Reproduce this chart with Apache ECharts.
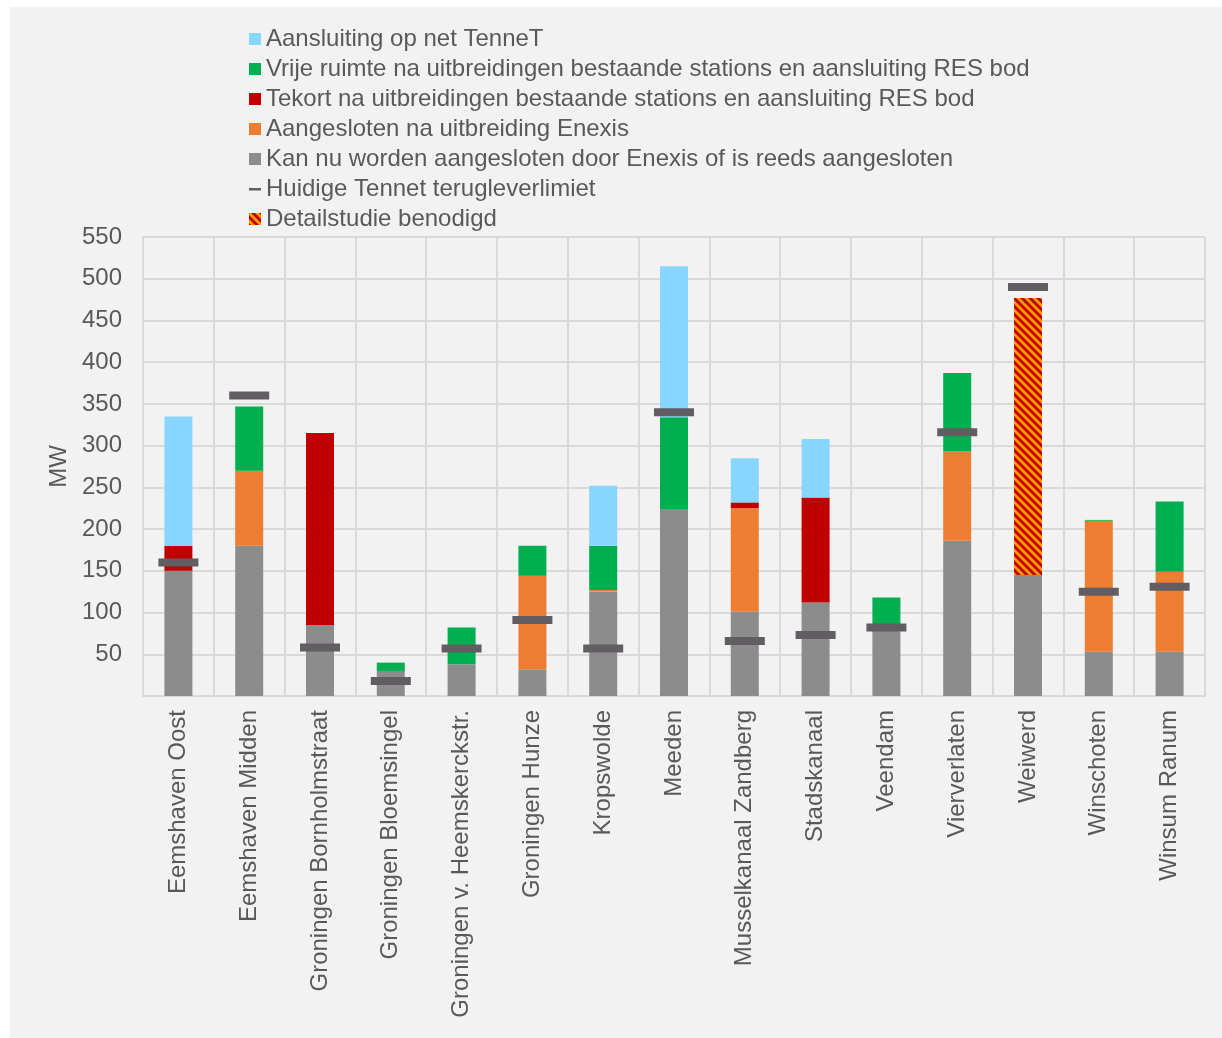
<!DOCTYPE html>
<html>
<head>
<meta charset="utf-8">
<script src="https://cdn.jsdelivr.net/npm/echarts@6/dist/echarts.min.js"></script>
<style>
html,body{margin:0;padding:0;background:#fff;width:1222px;height:1038px;overflow:hidden;}
#bg{position:absolute;left:10px;top:7px;width:1212px;height:1031px;background:#F2F2F2;}
#chart{position:absolute;left:0;top:0;width:1222px;height:1038px;}
</style>
</head>
<body>
<div id="bg"></div>
<div id="chart"></div>
<script>
const categories = ['Eemshaven Oost','Eemshaven Midden','Groningen Bornholmstraat','Groningen Bloemsingel','Groningen v. Heemskerckstr.','Groningen Hunze','Kropswolde','Meeden','Musselkanaal Zandberg','Stadskanaal','Veendam','Vierverlaten','Weiwerd','Winschoten','Winsum Ranum'];
const kanNu      = [150,180,85,30,38,32,125,224,101,112,82,186,145,53,53];
const aangesloten= [0,90,0,0,0,112,2,0,124,0,0,107,0,157,96];
const tekort     = [30,0,230,0,0,0,0,0,7,126,0,0,0,0,0];
const detail     = [0,0,0,0,0,0,0,0,0,0,0,0,332,0,0];
const vrije      = [0,77,0,10,44,36,53,110,0,0,36,94,0,1,84];
const tennet     = [155,0,0,0,0,0,72,181,53,70,0,0,0,0,0];
const limiet     = [160,360,58,18,57,91,57,340,66,73,82,316,490,125,131];
const yTicks = [0,50,100,150,200,250,300,350,400,450,500,550];

const names = {
  tennet:'Aansluiting op net TenneT',
  vrije:'Vrije ruimte na uitbreidingen bestaande stations en aansluiting RES bod',
  tekort:'Tekort na uitbreidingen bestaande stations en aansluiting RES bod',
  aang:'Aangesloten na uitbreiding Enexis',
  kan:'Kan nu worden aangesloten door Enexis of is reeds aangesloten',
  lim:'Huidige Tennet terugleverlimiet',
  detail:'Detailstudie benodigd'
};

// hatch pattern
const pc = document.createElement('canvas');
pc.width = 8; pc.height = 8;
const ctx = pc.getContext('2d');
ctx.fillStyle = '#C00000';
ctx.fillRect(0,0,8,8);
ctx.strokeStyle = '#FF9A00';
ctx.lineWidth = 2.8;
ctx.beginPath();
for (let k=-2;k<=2;k++){
  ctx.moveTo(k*8-2, -2);
  ctx.lineTo(k*8+10, 10);
}
ctx.stroke();

const textColor = '#595959';
const font = 'Liberation Sans, Arial, sans-serif';
const fs = 24;
const barW = 28;

function bar(name, data, color){
  return {name, type:'bar', stack:'s', data, barWidth:barW, itemStyle:{color}, emphasis:{disabled:true}};
}

const chart = echarts.init(document.getElementById('chart'), null, {renderer:'canvas'});
chart.setOption({
  backgroundColor:'transparent',
  animation:false,
  textStyle:{fontFamily:font},
  legend:{
    orient:'vertical', left:244, top:22,
    itemWidth:12, itemHeight:12, itemGap:6,
    textStyle:{fontSize:fs, color:textColor, fontFamily:font, padding:[0,0,0,0]},
    selectedMode:false,
    data:[
      {name:names.tennet, icon:'rect'},
      {name:names.vrije, icon:'rect'},
      {name:names.tekort, icon:'rect'},
      {name:names.aang, icon:'rect'},
      {name:names.kan, icon:'rect'},
      {name:names.lim, icon:'path://M0,0 L0,0 M0,5 L12,5 L12,7.5 L0,7.5 Z M12,12 L12,12'},
      {name:names.detail, icon:'rect'}
    ]
  },
  grid:{left:143, right:17, top:237, bottom:342, containLabel:false},
  xAxis:{
    type:'category', data:categories,
    axisLine:{show:true, lineStyle:{color:'#D9D9D9', width:2}},
    axisTick:{show:false},
    splitLine:{show:true, interval:0, lineStyle:{color:'#D9D9D9', width:2}},
    axisLabel:{rotate:90, interval:0, fontSize:fs, color:textColor, margin:14, fontFamily:font}
  },
  yAxis:{
    type:'value', min:0, max:550, interval:50,
    name:'MW', nameLocation:'middle', nameGap:71, nameRotate:90,
    nameTextStyle:{fontSize:fs, color:textColor, fontFamily:font},
    axisLine:{show:true, lineStyle:{color:'#D9D9D9', width:2}},
    axisTick:{show:false},
    splitLine:{show:true, lineStyle:{color:'#D9D9D9', width:2}},
    axisLabel:{fontSize:fs, color:textColor, margin:21, fontFamily:font,
      formatter:v => (v===yTicks[0] ? '' : String(v))}
  },
  series:[
    bar(names.kan, kanNu, '#8C8C8C'),
    bar(names.aang, aangesloten, '#ED7D31'),
    bar(names.tekort, tekort, '#C00000'),
    bar(names.detail, detail, {image:pc, repeat:'repeat'}),
    bar(names.vrije, vrije, '#00B050'),
    bar(names.tennet, tennet, '#87D6FF'),
    {name:names.lim, type:'scatter', data:limiet, symbol:'rect', symbolSize:[40,8],
     itemStyle:{color:'#625D63', opacity:1}, z:10, emphasis:{disabled:true}}
  ]
});
</script>
</body>
</html>
